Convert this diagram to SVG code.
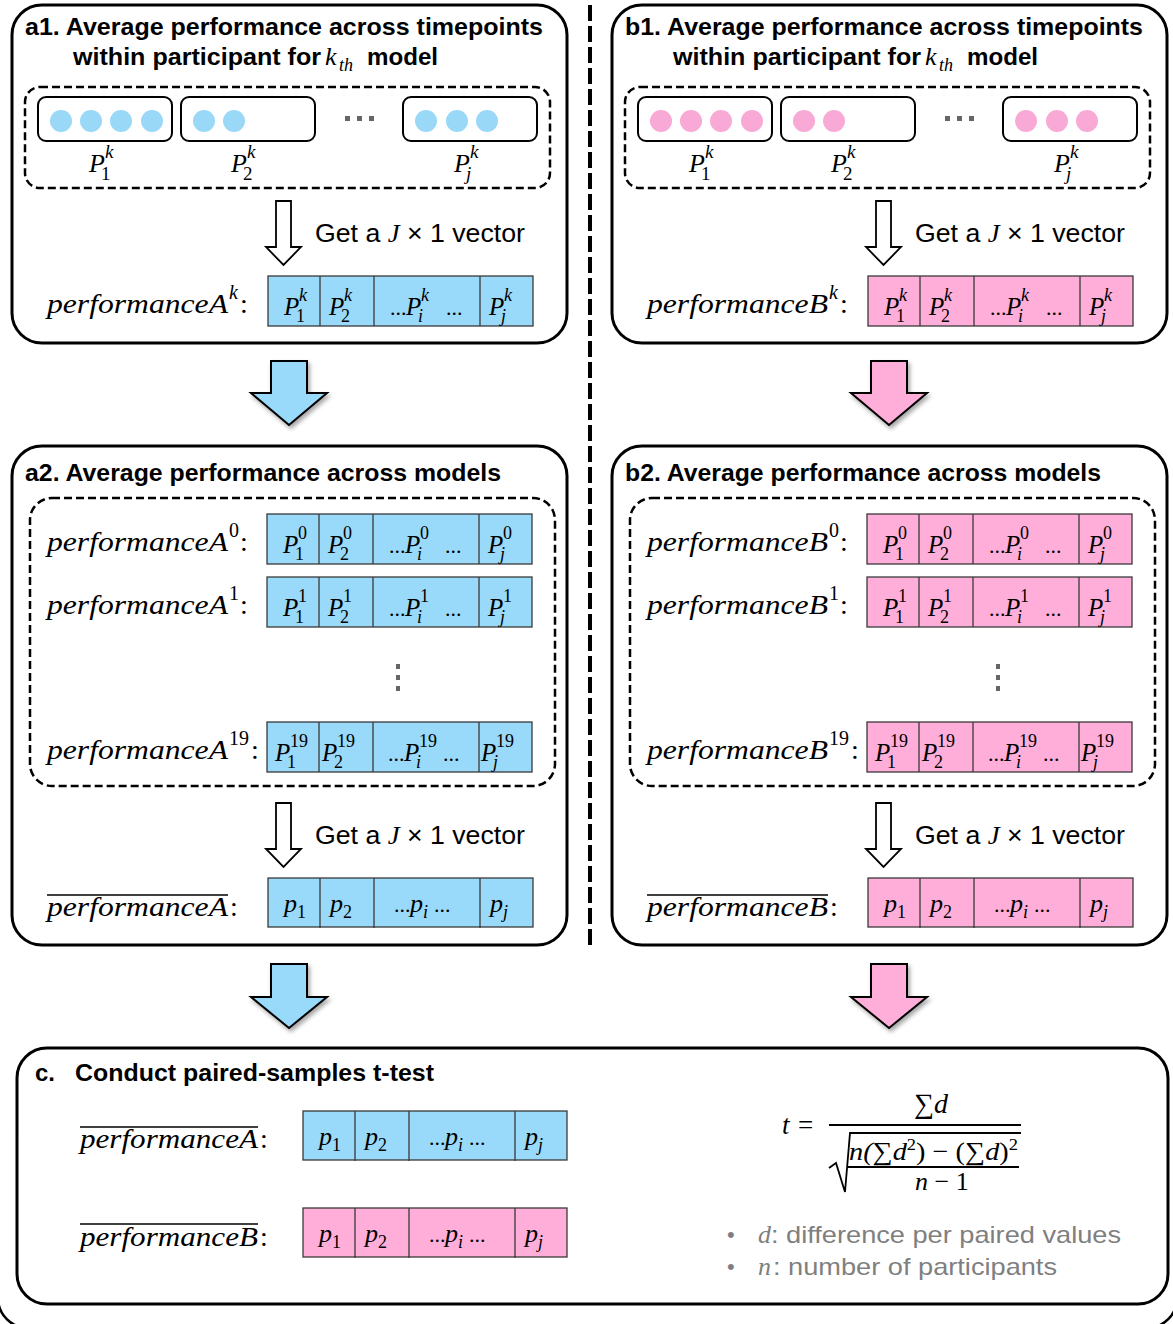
<svg xmlns="http://www.w3.org/2000/svg" width="1173" height="1324" viewBox="0 0 1173 1324">
<style>
.panel{fill:#fff;stroke:#000;stroke-width:3}
.outer{fill:none;stroke:#000;stroke-width:2.5}
.dash{fill:none;stroke:#000;stroke-width:2.5;stroke-dasharray:8 4}
.box{fill:#fff;stroke:#000;stroke-width:2}
.t{font-family:"Liberation Sans",Arial,sans-serif;font-weight:bold;font-size:24px;fill:#000}
.g{font-family:"Liberation Sans",Arial,sans-serif;font-size:25px;fill:#000}
.m{font-family:"Liberation Serif","Times New Roman",serif;font-style:italic;fill:#000}
.u{font-style:normal}
.vb{fill:#99d9f9;stroke:#3a3a3a;stroke-width:1.3}
.vp{fill:#ffaed9;stroke:#3a3a3a;stroke-width:1.3}
.cb{fill:#9ad8f8}
.cp{fill:#f9a9d5}
.div{stroke:#3a3a3a;stroke-width:1.3}
.hol{fill:#fff;stroke:#000;stroke-width:1.8}
.ba{fill:#99d9f9;stroke:#000;stroke-width:2;filter:url(#sh)}
.bp{fill:#ffaed9;stroke:#000;stroke-width:2;filter:url(#sh)}
.gd{fill:#666}
.gr{fill:#7f7f7f}
.ln{stroke:#000;stroke-width:1.5}
</style>
<defs>
<filter id="sh" x="-20%" y="-20%" width="150%" height="150%"><feDropShadow dx="2" dy="3" stdDeviation="2" flood-color="#000" flood-opacity="0.35"/></filter>
<g id="dv"><line class="div" x1="52" y1="0" x2="52" y2="50"/><line class="div" x1="106" y1="0" x2="106" y2="50"/><line class="div" x1="212" y1="0" x2="212" y2="50"/></g>
<g id="tk" class="m">
<text x="16" y="39" font-size="25">P</text><text x="31" y="25" font-size="18">k</text><text x="28" y="46" font-size="18" class="u">1</text>
<text x="61" y="39" font-size="25">P</text><text x="76" y="25" font-size="18">k</text><text x="73" y="46" font-size="18" class="u">2</text>
<text x="122" y="39" font-size="22" class="u">...</text>
<text x="138" y="39" font-size="25">P</text><text x="153" y="25" font-size="18">k</text><text x="150" y="46" font-size="18">i</text>
<text x="178" y="39" font-size="22" class="u">...</text>
<text x="221" y="39" font-size="25">P</text><text x="236" y="25" font-size="18">k</text><text x="233" y="46" font-size="18">j</text>
</g>
<g id="t0" class="m">
<text x="16" y="39" font-size="25">P</text><text x="31" y="25" font-size="18" class="u">0</text><text x="28" y="46" font-size="18" class="u">1</text>
<text x="61" y="39" font-size="25">P</text><text x="76" y="25" font-size="18" class="u">0</text><text x="73" y="46" font-size="18" class="u">2</text>
<text x="122" y="39" font-size="22" class="u">...</text>
<text x="138" y="39" font-size="25">P</text><text x="153" y="25" font-size="18" class="u">0</text><text x="150" y="46" font-size="18">i</text>
<text x="178" y="39" font-size="22" class="u">...</text>
<text x="221" y="39" font-size="25">P</text><text x="236" y="25" font-size="18" class="u">0</text><text x="233" y="46" font-size="18">j</text>
</g>
<g id="t1" class="m">
<text x="16" y="39" font-size="25">P</text><text x="31" y="25" font-size="18" class="u">1</text><text x="28" y="46" font-size="18" class="u">1</text>
<text x="61" y="39" font-size="25">P</text><text x="76" y="25" font-size="18" class="u">1</text><text x="73" y="46" font-size="18" class="u">2</text>
<text x="122" y="39" font-size="22" class="u">...</text>
<text x="138" y="39" font-size="25">P</text><text x="153" y="25" font-size="18" class="u">1</text><text x="150" y="46" font-size="18">i</text>
<text x="178" y="39" font-size="22" class="u">...</text>
<text x="221" y="39" font-size="25">P</text><text x="236" y="25" font-size="18" class="u">1</text><text x="233" y="46" font-size="18">j</text>
</g>
<g id="t19" class="m">
<text x="8" y="39" font-size="25">P</text><text x="23" y="25" font-size="18" class="u">19</text><text x="20" y="46" font-size="18" class="u">1</text>
<text x="55" y="39" font-size="25">P</text><text x="70" y="25" font-size="18" class="u">19</text><text x="67" y="46" font-size="18" class="u">2</text>
<text x="121" y="39" font-size="22" class="u">...</text>
<text x="137" y="39" font-size="25">P</text><text x="152" y="25" font-size="18" class="u">19</text><text x="149" y="46" font-size="18">i</text>
<text x="176" y="39" font-size="22" class="u">...</text>
<text x="214" y="39" font-size="25">P</text><text x="229" y="25" font-size="18" class="u">19</text><text x="226" y="46" font-size="18">j</text>
</g>
<g id="tp" class="m">
<text x="16" y="34" font-size="26">p</text><text x="29" y="40" font-size="18" class="u">1</text>
<text x="62" y="34" font-size="26">p</text><text x="75" y="40" font-size="18" class="u">2</text>
<text x="126" y="34" font-size="22" class="u">...</text>
<text x="142" y="34" font-size="26">p</text><text x="155" y="40" font-size="18">i</text>
<text x="166" y="34" font-size="22" class="u">...</text>
<text x="222" y="34" font-size="26">p</text><text x="235" y="40" font-size="18">j</text>
</g>
<g id="lbl" class="m">
<text x="89" y="172" font-size="26">P</text><text x="105" y="158" font-size="19">k</text><text x="101" y="180" font-size="19" class="u">1</text>
<text x="231" y="172" font-size="26">P</text><text x="247" y="158" font-size="19">k</text><text x="243" y="180" font-size="19" class="u">2</text>
<text x="454" y="172" font-size="26">P</text><text x="470" y="158" font-size="19">k</text><text x="466" y="180" font-size="19">j</text>
</g>
</defs>

<rect class="outer" x="-2" y="-30" width="1179" height="1358" rx="30"/>
<line x1="590" y1="5" x2="590" y2="945" stroke="#000" stroke-width="4" stroke-dasharray="16 5"/>

<!-- a1 -->
<g id="a1">
<rect class="panel" x="12" y="5" width="555" height="338" rx="30"/>
<text class="t" x="25" y="35" textLength="518" lengthAdjust="spacingAndGlyphs">a1. Average performance across timepoints</text>
<text class="t" x="73" y="65" textLength="248" lengthAdjust="spacingAndGlyphs">within participant for</text>
<text class="m" x="325" y="65" font-size="26">k</text><text class="m" x="339" y="71" font-size="18">th</text>
<text class="t" x="367" y="65" textLength="71" lengthAdjust="spacingAndGlyphs">model</text>
<rect class="dash" x="25" y="87" width="525" height="101" rx="15"/>
<rect class="box" x="38" y="97" width="134" height="44" rx="8"/>
<rect class="box" x="181" y="97" width="134" height="44" rx="8"/>
<rect class="box" x="403" y="97" width="134" height="44" rx="8"/>
<g class="cb"><circle cx="61" cy="121" r="11"/><circle cx="91" cy="121" r="11"/><circle cx="121" cy="121" r="11"/><circle cx="152" cy="121" r="11"/><circle cx="204" cy="121" r="11"/><circle cx="234" cy="121" r="11"/><circle cx="426" cy="121" r="11"/><circle cx="457" cy="121" r="11"/><circle cx="487" cy="121" r="11"/></g>
<g class="gd"><rect x="345" y="116" width="5" height="5"/><rect x="357" y="116" width="5" height="5"/><rect x="369" y="116" width="5" height="5"/></g>
<use href="#lbl"/>
<text class="g" x="315" y="242" textLength="210" lengthAdjust="spacingAndGlyphs">Get a <tspan class="m">J</tspan> × 1 vector</text>
<text class="m" x="47" y="313" font-size="28" textLength="181" lengthAdjust="spacingAndGlyphs">performanceA</text><text class="m" x="229" y="299" font-size="20">k</text><text class="m u" x="240" y="313" font-size="28">:</text>
<rect class="vb" x="268" y="276" width="265" height="50"/><use href="#dv" x="268" y="276"/><use href="#tk" x="268" y="276"/>
</g>

<!-- b1 -->
<g id="b1" transform="translate(600,0)">
<rect class="panel" x="12" y="5" width="555" height="338" rx="30"/>
<text class="t" x="25" y="35" textLength="518" lengthAdjust="spacingAndGlyphs">b1. Average performance across timepoints</text>
<text class="t" x="73" y="65" textLength="248" lengthAdjust="spacingAndGlyphs">within participant for</text>
<text class="m" x="325" y="65" font-size="26">k</text><text class="m" x="339" y="71" font-size="18">th</text>
<text class="t" x="367" y="65" textLength="71" lengthAdjust="spacingAndGlyphs">model</text>
<rect class="dash" x="25" y="87" width="525" height="101" rx="15"/>
<rect class="box" x="38" y="97" width="134" height="44" rx="8"/>
<rect class="box" x="181" y="97" width="134" height="44" rx="8"/>
<rect class="box" x="403" y="97" width="134" height="44" rx="8"/>
<g class="cp"><circle cx="61" cy="121" r="11"/><circle cx="91" cy="121" r="11"/><circle cx="121" cy="121" r="11"/><circle cx="152" cy="121" r="11"/><circle cx="204" cy="121" r="11"/><circle cx="234" cy="121" r="11"/><circle cx="426" cy="121" r="11"/><circle cx="457" cy="121" r="11"/><circle cx="487" cy="121" r="11"/></g>
<g class="gd"><rect x="345" y="116" width="5" height="5"/><rect x="357" y="116" width="5" height="5"/><rect x="369" y="116" width="5" height="5"/></g>
<use href="#lbl"/>
<text class="g" x="315" y="242" textLength="210" lengthAdjust="spacingAndGlyphs">Get a <tspan class="m">J</tspan> × 1 vector</text>
<text class="m" x="47" y="313" font-size="28" textLength="181" lengthAdjust="spacingAndGlyphs">performanceB</text><text class="m" x="229" y="299" font-size="20">k</text><text class="m u" x="240" y="313" font-size="28">:</text>
<rect class="vp" x="268" y="276" width="265" height="50"/><use href="#dv" x="268" y="276"/><use href="#tk" x="268" y="276"/>
</g>

<!-- a2 -->
<g id="a2">
<rect class="panel" x="12" y="446" width="555" height="499" rx="30"/>
<text class="t" x="25" y="481" textLength="476" lengthAdjust="spacingAndGlyphs">a2. Average performance across models</text>
<rect class="dash" x="30" y="498" width="525" height="288" rx="22"/>
<text class="m" x="47" y="551" font-size="28" textLength="181" lengthAdjust="spacingAndGlyphs">performanceA</text><text class="m u" x="229" y="537" font-size="20">0</text><text class="m u" x="240" y="551" font-size="28">:</text>
<rect class="vb" x="267" y="514" width="265" height="50"/><use href="#dv" x="267" y="514"/><use href="#t0" x="267" y="514"/>
<text class="m" x="47" y="614" font-size="28" textLength="181" lengthAdjust="spacingAndGlyphs">performanceA</text><text class="m u" x="229" y="600" font-size="20">1</text><text class="m u" x="240" y="614" font-size="28">:</text>
<rect class="vb" x="267" y="577" width="265" height="50"/><use href="#dv" x="267" y="577"/><use href="#t1" x="267" y="577"/>
<g class="gd"><rect x="396" y="664" width="4" height="5"/><rect x="396" y="675" width="4" height="5"/><rect x="396" y="686" width="4" height="5"/></g>
<text class="m" x="47" y="759" font-size="28" textLength="181" lengthAdjust="spacingAndGlyphs">performanceA</text><text class="m u" x="229" y="745" font-size="20">19</text><text class="m u" x="251" y="759" font-size="28">:</text>
<rect class="vb" x="267" y="722" width="265" height="50"/><use href="#dv" x="267" y="722"/><use href="#t19" x="267" y="722"/>
<text class="g" x="315" y="844" textLength="210" lengthAdjust="spacingAndGlyphs">Get a <tspan class="m">J</tspan> × 1 vector</text>
<line class="ln" x1="47" y1="895" x2="228" y2="895"/>
<text class="m" x="47" y="916" font-size="28" textLength="181" lengthAdjust="spacingAndGlyphs">performanceA</text><text class="m u" x="230" y="916" font-size="28">:</text>
<rect class="vb" x="268" y="878" width="265" height="49"/><use href="#dv" x="268" y="878"/><use href="#tp" x="268" y="878"/>
</g>

<!-- b2 -->
<g id="b2" transform="translate(600,0)">
<rect class="panel" x="12" y="446" width="555" height="499" rx="30"/>
<text class="t" x="25" y="481" textLength="476" lengthAdjust="spacingAndGlyphs">b2. Average performance across models</text>
<rect class="dash" x="30" y="498" width="525" height="288" rx="22"/>
<text class="m" x="47" y="551" font-size="28" textLength="181" lengthAdjust="spacingAndGlyphs">performanceB</text><text class="m u" x="229" y="537" font-size="20">0</text><text class="m u" x="240" y="551" font-size="28">:</text>
<rect class="vp" x="267" y="514" width="265" height="50"/><use href="#dv" x="267" y="514"/><use href="#t0" x="267" y="514"/>
<text class="m" x="47" y="614" font-size="28" textLength="181" lengthAdjust="spacingAndGlyphs">performanceB</text><text class="m u" x="229" y="600" font-size="20">1</text><text class="m u" x="240" y="614" font-size="28">:</text>
<rect class="vp" x="267" y="577" width="265" height="50"/><use href="#dv" x="267" y="577"/><use href="#t1" x="267" y="577"/>
<g class="gd"><rect x="396" y="664" width="4" height="5"/><rect x="396" y="675" width="4" height="5"/><rect x="396" y="686" width="4" height="5"/></g>
<text class="m" x="47" y="759" font-size="28" textLength="181" lengthAdjust="spacingAndGlyphs">performanceB</text><text class="m u" x="229" y="745" font-size="20">19</text><text class="m u" x="251" y="759" font-size="28">:</text>
<rect class="vp" x="267" y="722" width="265" height="50"/><use href="#dv" x="267" y="722"/><use href="#t19" x="267" y="722"/>
<text class="g" x="315" y="844" textLength="210" lengthAdjust="spacingAndGlyphs">Get a <tspan class="m">J</tspan> × 1 vector</text>
<line class="ln" x1="47" y1="895" x2="228" y2="895"/>
<text class="m" x="47" y="916" font-size="28" textLength="181" lengthAdjust="spacingAndGlyphs">performanceB</text><text class="m u" x="230" y="916" font-size="28">:</text>
<rect class="vp" x="268" y="878" width="265" height="49"/><use href="#dv" x="268" y="878"/><use href="#tp" x="268" y="878"/>
</g>

<!-- c -->
<g id="c">
<rect class="panel" x="17" y="1048" width="1151" height="256" rx="30"/>
<text class="t" x="35" y="1081">c.</text>
<text class="t" x="75" y="1081" textLength="359" lengthAdjust="spacingAndGlyphs">Conduct paired-samples t-test</text>
<line class="ln" x1="80" y1="1127" x2="258" y2="1127"/>
<text class="m" x="80" y="1148" font-size="28" textLength="178" lengthAdjust="spacingAndGlyphs">performanceA</text><text class="m u" x="260" y="1148" font-size="28">:</text>
<rect class="vb" x="303" y="1111" width="264" height="49"/><use href="#dv" x="303" y="1111"/><use href="#tp" x="303" y="1111"/>
<line class="ln" x1="80" y1="1224" x2="258" y2="1224"/>
<text class="m" x="80" y="1246" font-size="28" textLength="178" lengthAdjust="spacingAndGlyphs">performanceB</text><text class="m u" x="260" y="1246" font-size="28">:</text>
<rect class="vp" x="303" y="1208" width="264" height="49"/><use href="#dv" x="303" y="1208"/><use href="#tp" x="303" y="1208"/>
<text class="m" x="782" y="1134" font-size="27">t</text><text class="m u" x="798" y="1134" font-size="27">=</text>
<text class="m" x="914" y="1113" font-size="28"><tspan class="u">∑</tspan>d</text>
<line x1="829" y1="1125" x2="1021" y2="1125" stroke="#000" stroke-width="2"/>
<path d="M829,1168 L836,1163 L845,1192 L850,1133 H1021" fill="none" stroke="#000" stroke-width="1.8"/>
<text class="m" x="849" y="1160" font-size="26" textLength="169" lengthAdjust="spacingAndGlyphs">n(<tspan class="u">∑</tspan>d<tspan class="u" font-size="17" dy="-10">2</tspan><tspan class="u" dy="10">) − (∑</tspan>d<tspan class="u">)</tspan><tspan class="u" font-size="17" dy="-10">2</tspan></text>
<line x1="848" y1="1167" x2="1019" y2="1167" stroke="#000" stroke-width="1.8"/>
<text class="m" x="915" y="1190" font-size="26">n <tspan class="u">− 1</tspan></text>
<text class="gr" x="727" y="1242" font-family="Liberation Sans, sans-serif" font-size="22">•</text>
<text class="m gr" x="758" y="1243" font-size="26">d</text>
<text class="gr" x="771" y="1243" font-family="Liberation Sans, sans-serif" font-size="24" textLength="350" lengthAdjust="spacingAndGlyphs">: difference per paired values</text>
<text class="gr" x="727" y="1274" font-family="Liberation Sans, sans-serif" font-size="22">•</text>
<text class="m gr" x="758" y="1275" font-size="26">n</text>
<text class="gr" x="773" y="1275" font-family="Liberation Sans, sans-serif" font-size="24" textLength="284" lengthAdjust="spacingAndGlyphs">: number of participants</text>
</g>

<!-- connectors -->
<g id="connectors">
<path class="hol" d="M276,201 H291 V247 H301 L283.5,265 L266,247 H276 Z"/>
<path class="hol" d="M876,201 H891 V247 H901 L883.5,265 L866,247 H876 Z"/>
<path class="hol" d="M276,803 H291 V849 H301 L283.5,867 L266,849 H276 Z"/>
<path class="hol" d="M876,803 H891 V849 H901 L883.5,867 L866,849 H876 Z"/>
<path class="ba" d="M271,361 H307 V393 H327 L289,425 L251,393 H271 Z"/>
<path class="bp" d="M871,361 H907 V393 H927 L889,425 L851,393 H871 Z"/>
<path class="ba" d="M271,964 H307 V997 H327 L289,1028 L251,997 H271 Z"/>
<path class="bp" d="M871,964 H907 V997 H927 L889,1028 L851,997 H871 Z"/>
</g>
</svg>
